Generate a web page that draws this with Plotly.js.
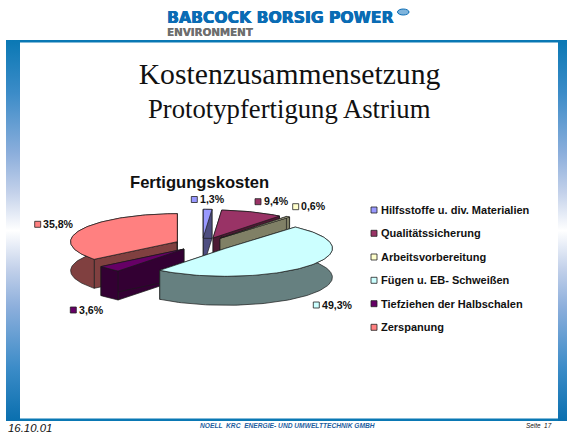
<!DOCTYPE html>
<html><head><meta charset="utf-8">
<script src="https://cdn.plot.ly/plotly-3.0.1.min.js"></script>
<style>html,body{margin:0;padding:0;background:#fff}#c{width:567px;height:434px}</style>
</head><body><div id="c"></div>
<script>
// ---- data ----
const categories = ["Hilfsstoffe u. div. Materialien","Qualitätssicherung","Arbeitsvorbereitung","Fügen u. EB- Schweißen","Tiefziehen der Halbschalen","Zerspanung"];
const values = [1.3, 9.4, 0.6, 49.3, 3.6, 35.8];
const chartTitle = "Fertigungskosten";
const mainTitle = "Kostenzusammensetzung";
const subTitle = "Prototypfertigung Astrium";

// ---- styles / layout ----
const topColors  = ["#9999FF","#993366","#FFFFCC","#CCFFFF","#660066","#FF8080"];
const sideColors = ["#4D4D80","#4D1933","#808066","#668080","#330033","#804040"];
const centers = [[203.3,237.3],[213,238],[220,238.3],[225.7,248.3],[184,249],[177.3,241.7]];
const labelKeys = [[194.3,199.5],[258,201.7],[295.7,206.7],[316.3,305],[73.3,310],[37.7,224.3]];
const legendY = [210,233.3,257,280.3,303.7,327.3];
const drawOrder = [5,0,1,2,4,3];
const RX = 106.7, RY = 28, DEPTH = 29;
const OUT = "#1a1a1a";

const traces = [];
// side bars with gradient
const gradient = {type:"vertical",colorscale:[[0,"#0A6FAE"],[0.14,"#3C8CC8"],[0.3,"#8DAFDC"],[0.4,"#C3D1EA"],[0.5,"#FFFFFF"],[0.6,"#C3D1EA"],[0.7,"#8DAFDC"],[0.86,"#3C8CC8"],[1,"#0A78B4"]]};
[[6,20],[558,567]].forEach(b=>traces.push({x:[b[0],b[1],b[1],b[0],b[0]],y:[40,40,421,421,40],mode:"none",fill:"toself",fillgradient:gradient,hoverinfo:"skip",showlegend:false}));

function pt(c,t,dy){return [c[0]+RX*Math.sin(t), c[1]-RY*Math.cos(t)+(dy||0)];}
function poly(pts,fill,name){
  const x=pts.map(p=>p[0]).concat(pts[0][0]), y=pts.map(p=>p[1]).concat(pts[0][1]);
  traces.push({x,y,mode:"lines",fill:"toself",fillcolor:fill,line:{color:OUT,width:0.7},hoverinfo:"skip",showlegend:false,name:name||""});
}
const total = values.reduce((a,b)=>a+b,0);
const bounds = []; let acc=0;
values.forEach(v=>{bounds.push([acc/total*2*Math.PI,(acc+v)/total*2*Math.PI]);acc+=v;});
drawOrder.forEach(i=>{
  const c=centers[i], [a0,a1]=bounds[i], arc=[], n=Math.max(4,Math.ceil((a1-a0)/0.03));
  for(let k=0;k<=n;k++) arc.push(a0+(a1-a0)*k/n);
  const bottomC=[c[0],c[1]+DEPTH];
  // radial walls
  [a0,a1].forEach(t=>poly([c,pt(c,t),pt(c,t,DEPTH),bottomC],sideColors[i]));
  // outer wall
  const outer=arc.map(t=>pt(c,t)).concat(arc.slice().reverse().map(t=>pt(c,t,DEPTH)));
  poly(outer,sideColors[i]);
  // top face
  poly([c].concat(arc.map(t=>pt(c,t))),topColors[i],categories[i]);
});
// label keys
traces.push({x:labelKeys.map(p=>p[0]),y:labelKeys.map(p=>p[1]),mode:"markers",marker:{symbol:"square",size:6,color:topColors,line:{color:"#222",width:0.8}},hoverinfo:"skip",showlegend:false});
// legend keys
traces.push({x:categories.map(()=>374),y:legendY,mode:"markers",marker:{symbol:"square",size:6,color:topColors,line:{color:"#222",width:0.8}},hoverinfo:"skip",showlegend:false});

const SANS="Liberation Sans, Arial, sans-serif", SERIF="Liberation Serif, Times New Roman, serif";
function ann(text,x,y,size,opts){return Object.assign({text,x,y,xref:"x",yref:"y",xanchor:"left",yanchor:"middle",showarrow:false,borderpad:0,font:{family:SANS,size,color:"#111",weight:(opts&&opts.weight)||"normal",style:(opts&&opts.style)||"normal"}},opts&&opts.extra);}
const annotations=[];
values.forEach((v,i)=>annotations.push(ann(v.toFixed(1).replace(".",",")+"%",labelKeys[i][0]+4.5,labelKeys[i][1]-0.5,10.6,{weight:700})));
categories.forEach((c,i)=>annotations.push(ann(c,379.5,legendY[i],11,{weight:700})));
annotations.push(ann(chartTitle,129,182.5,16.6,{weight:700}));
annotations.push(ann(subTitle,289.5,108.5,26.7,{extra:{xanchor:"center"}}));
annotations[annotations.length-1].font.family=SERIF;
// logo
annotations.push(Object.assign(ann("BABCOCK BORSIG POWER",166,18,15.6,{weight:700}),{font:{family:"DejaVu Sans",size:15.6,weight:700,color:"#0A6CB4",shadow:"0.5px 0 0 #0A6CB4, -0.3px 0 0 #0A6CB4"}}));
annotations.push(Object.assign(ann("ENVIRONMENT",166,32,10.3,{weight:700}),{font:{family:"DejaVu Sans",size:10.3,weight:700,color:"#6E6E6E",shadow:"0.3px 0 0 #6E6E6E"}}));
// footer
annotations.push(ann("16.10.01",7,428,11.4,{style:"italic"}));
annotations.push(Object.assign(ann("NOELL  KRC  ENERGIE- UND UMWELTTECHNIK GMBH",199,425.5,6.65,{}),{font:{family:SANS,size:6.65,weight:700,style:"italic",color:"#1F5F9F"}}));
annotations.push(ann("Seite  17",525,425.5,6.4,{style:"italic"}));

const shapes=[
 {type:"rect",xref:"x",yref:"y",x0:6,x1:567,y0:40,y1:42.4,fillcolor:"#0A78B4",line:{width:0},layer:"below"},
 {type:"rect",xref:"x",yref:"y",x0:6,x1:567,y0:418.5,y1:421,fillcolor:"#0A78B4",line:{width:0},layer:"below"},
 {type:"circle",xref:"x",yref:"y",x0:397.5,x1:409,y0:9,y1:15,fillcolor:"#7FB4DC",line:{color:"#0A6CB4",width:1}}
];
const layout={width:567,height:434,margin:{l:0,r:0,t:0,b:0,pad:0},paper_bgcolor:"#fff",plot_bgcolor:"rgba(0,0,0,0)",showlegend:false,
 title:{text:mainTitle,font:{family:SERIF,size:29.7,color:"#111"},x:289.5/567,xanchor:"center",xref:"paper",y:1-73.5/434,yanchor:"middle"},
 xaxis:{range:[0,567],visible:false,fixedrange:true},
 yaxis:{range:[434,0],visible:false,fixedrange:true},
 annotations,shapes};
Plotly.newPlot("c",traces,layout,{staticPlot:true,displayModeBar:false});
</script></body></html>
